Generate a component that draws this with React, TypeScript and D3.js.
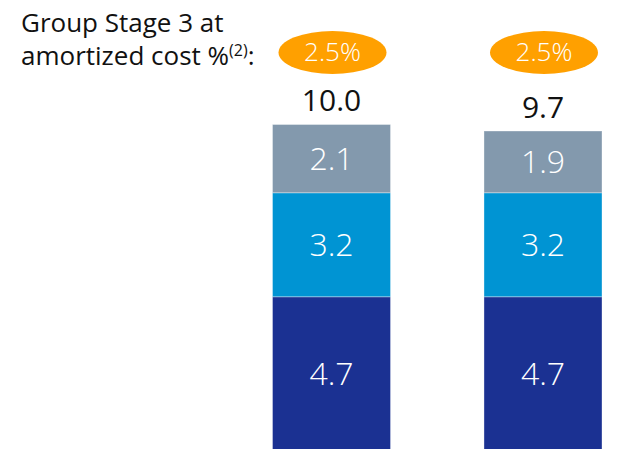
import React from "react";
import * as d3 from "d3";

const categories = ["A", "B"];
const stage3Ratio = ["2.5%", "2.5%"];
const bottomValues = [4.7, 4.7];
const middleValues = [3.2, 3.2];
const topValues = [2.1, 1.9];
const totals = ["10.0", "9.7"];
const seriesKeys = ["bottom", "middle", "top"];
const seriesColors = ["#1b3192", "#0094d3", "#8399ad"];

const W = 630;
const H = 449;
const FONT = "'Open Sans', 'DejaVu Sans', sans-serif";

export default function App() {
  const rows = categories.map((c, i) => ({
    cat: c,
    bottom: bottomValues[i],
    middle: middleValues[i],
    top: topValues[i],
  }));
  const stack = d3.stack<any>().keys(seriesKeys)(rows);
  const x = d3.scaleBand().domain(categories).range([272.5, 602]).paddingInner(0.442).paddingOuter(0);
  const y = d3.scaleLinear().domain([0, 10]).range([449.5, 124.5]);
  const bw = x.bandwidth();

  return (
    <svg width={W} height={H} style={{ position: "absolute", left: 0, top: 0 }} fontFamily={FONT}>
      <rect width={W} height={H} fill="#fff" />
      <g fontWeight={370}>
        <text x={21} y={32} fontSize={26} fill="#111">Group Stage 3 at</text>
        <text x={21} y={65} fontSize={26} fill="#111">
          amortized cost %<tspan fontSize={16} dy={-9}>(2)</tspan><tspan dy={9}>:</tspan>
        </text>
      </g>
      {stack.map((s, si) => (
        <g key={s.key}>
          {s.map((d, i) => {
            const y0 = y(d[1]);
            const y1 = y(d[0]);
            const cx = (x(categories[i]) as number) + bw / 2;
            return (
              <g key={i}>
                <rect
                  x={x(categories[i])}
                  y={y0}
                  width={bw}
                  height={y1 - y0}
                  fill={seriesColors[si]}
                  stroke="#ffffff"
                  strokeOpacity={0.35}
                  strokeWidth={1}
                />
                <text
                  x={cx}
                  y={(y0 + y1) / 2 + 0.357 * 32}
                  fontSize={32}
                  fontWeight={330}
                  fill="#fff"
                  textAnchor="middle"
                >
                  {(d[1] - d[0]).toFixed(1)}
                </text>
              </g>
            );
          })}
        </g>
      ))}
      {categories.map((c, i) => {
        const cx = (x(c) as number) + bw / 2;
        const topY = y(bottomValues[i] + middleValues[i] + topValues[i]);
        return (
          <g key={c}>
            <text x={cx} y={topY - 13.5} fontSize={30} fontWeight={370} fill="#111" textAnchor="middle">
              {totals[i]}
            </text>
            <ellipse cx={cx + 1} cy={52.5} rx={54} ry={21.5} fill="#ffa000" />
            <text x={cx + 1} y={61} fontSize={26} fontWeight={330} fill="#fff" textAnchor="middle">
              {stage3Ratio[i]}
            </text>
          </g>
        );
      })}
    </svg>
  );
}
